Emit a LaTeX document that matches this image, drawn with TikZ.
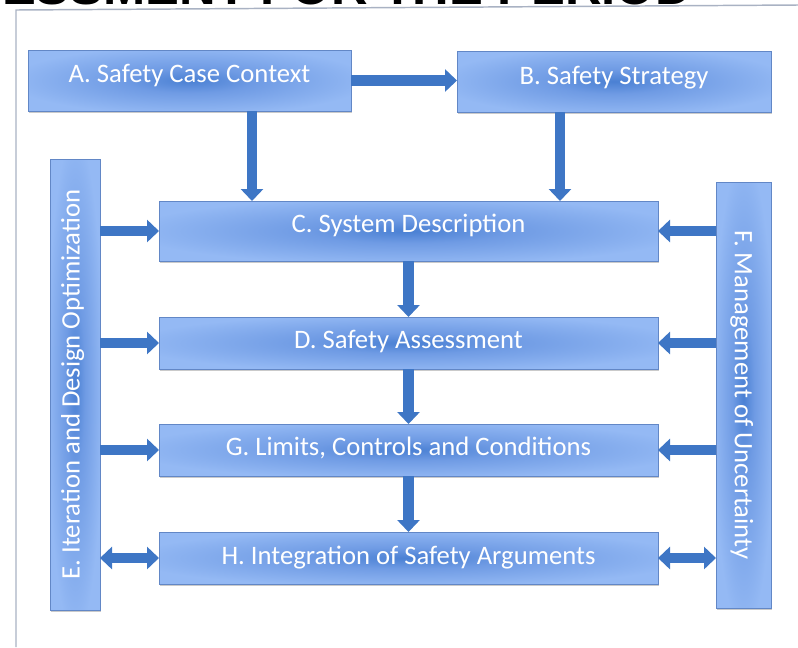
\documentclass[tikz,border=0pt]{standalone}
\usepackage{fontspec}
\setmainfont{Carlito}
\newfontfamily\titlefont{Liberation Sans}
\usetikzlibrary{arrows.meta,calc,shadows}

\definecolor{boxlight}{HTML}{94B9F4}
\definecolor{boxmid}{HTML}{6F9BE4}
\definecolor{boxdark}{HTML}{4A80D3}
\definecolor{boxedge}{HTML}{6287C6}
\definecolor{flowblue}{HTML}{3E76C5}
\definecolor{framegray}{HTML}{A9B2C3}

% soft darker glow in the middle of every stage box
\pgfdeclareradialshading{boxglow}{\pgfpoint{0bp}{0bp}}{%
  color(0bp)=(boxdark); color(10bp)=(boxmid); color(28bp)=(boxlight); color(50bp)=(boxlight)}

\tikzset{
  stage/.style={draw=boxedge, line width=0.6pt, shading=boxglow, text=white,
    font=\fontsize{20}{24}\selectfont, inner sep=0pt, outer sep=0pt,
    text height=15pt, text depth=2.2pt,
    drop shadow={shadow xshift=0.6pt, shadow yshift=-1.2pt, opacity=0.35, fill=black!60}},
  % raise the label inside its box by #1 (in pt)
  lift/.style={text depth=2.2pt+2*#1},
  flow/.style={draw=flowblue, line width=8pt, -{Triangle[width=16.5pt,length=9pt]}},
  twoway/.style={draw=flowblue, line width=8pt,
    {Triangle[width=16.5pt,length=9pt]}-{Triangle[width=16.5pt,length=9pt]}},
}

\begin{document}
\begin{tikzpicture}[x=0.75pt,y=-0.75pt]
\useasboundingbox (0,0) rectangle (798,647);
\begin{scope}
\clip (0,0) rectangle (798,647);

% slide title and frame
\node[font=\titlefont\bfseries\fontsize{38}{44}\selectfont, anchor=base east, inner sep=0pt]
  (title) at (692,4.5) {ASSESSMENT FOR THE PERIOD};
\draw[framegray, line width=1.1pt] (798,5) -- (16,10) -- (16,647);

% stage boxes
\node[stage, lift=5pt, minimum width=242.25pt, minimum height=45.75pt] (A) at (189.5,80.5) {A. Safety Case Context};
\node[stage, lift=4.5pt, minimum width=235.5pt, minimum height=45.75pt] (B) at (614,81.5) {B. Safety Strategy};
\node[stage, lift=5pt, minimum width=374.25pt, minimum height=45pt] (C) at (408.5,231) {C. System Description};
\node[stage, lift=2.2pt, minimum width=374.25pt, minimum height=39pt] (D) at (408.5,343) {D. Safety Assessment};
\node[stage, lift=2.2pt, minimum width=374.25pt, minimum height=39pt] (G) at (408.5,450) {G. Limits, Controls and Conditions};
\node[stage, lift=1.5pt, minimum width=374.25pt, minimum height=39pt] (H) at (408.5,558) {H. Integration of Safety Arguments};
\node[stage, lift=3pt, rotate=90, minimum width=338.25pt, minimum height=37.5pt] (E) at (75,384.5) {E. Iteration and Design Optimization};
\node[stage, lift=0pt, rotate=-90, minimum width=319.5pt, minimum height=41.25pt] (F) at (743.5,395) {F. Management of Uncertainty};

% main flow
\draw[flow] (A.east) -- (A.east -| B.west);
\coordinate (ac) at ($(A.south)+(62.5,0)$);
\coordinate (bc) at ($(B.south)+(-54,0)$);
\draw[flow] (ac) -- (ac |- C.north);
\draw[flow] (bc) -- (bc |- C.north);
\draw[flow] (C.south) -- (D.north);
\draw[flow] (D.south) -- (G.north);
\draw[flow] (G.south) -- (H.north);

% side feeds
\foreach \s in {C,D,G}{
  \draw[flow] (E.south |- \s.west) -- (\s.west);
  \draw[flow] (F.south |- \s.east) -- (\s.east);
}
\draw[twoway] (E.south |- H.west) -- (H.west);
\draw[twoway] (F.south |- H.east) -- (H.east);
\end{scope}
\end{tikzpicture}
\end{document}
